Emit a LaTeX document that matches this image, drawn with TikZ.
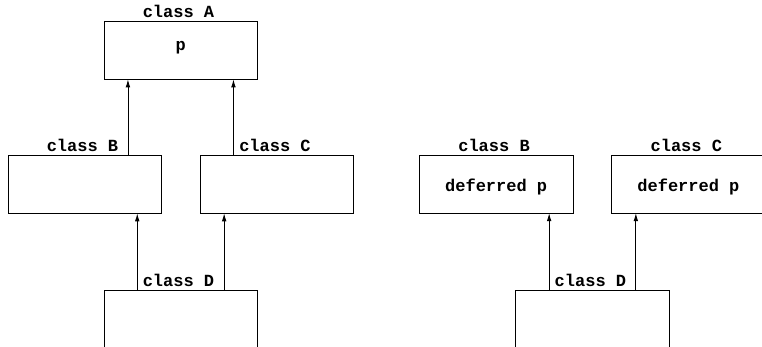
\documentclass[tikz,border=0pt]{standalone}
\usepackage{fontspec}
\setmonofont{Liberation Mono}
\usetikzlibrary{arrows.meta}
\begin{document}
\begin{tikzpicture}[x=1pt,y=-1pt,
  cls/.style={draw,line width=0.9pt,minimum width=153.5pt,minimum height=57.6pt,
    inner sep=0pt,outer sep=0pt},
  txt/.style={font=\fontsize{17}{20}\selectfont\ttfamily\bfseries,inner sep=0pt,anchor=base},
  arr/.style={line width=0.9pt,-{Latex[length=8pt,width=4.6pt]}}]
\useasboundingbox (0,0) rectangle (762,347);
\clip (0,0) rectangle (762,347);

% left: repeated inheritance of p
\node[cls] (A) at (180.7,50.5) {};
\node[cls] (B) at (84.8,184.5) {};
\node[cls] (C) at (277,184.5) {};
\node[cls] (D) at (180.7,319.1) {};
\node[txt] (lA) at (178.5,17.3) {class A};
\node[txt] (lB) at (82.5,151.6) {class B};
\node[txt] (lC) at (275,151.6) {class C};
\node[txt] (lD) at (178.5,286.2) {class D};
\node[txt] (pA) at (180.7,51) {p};

\coordinate (ba) at ([xshift=24pt]A.south west);
\coordinate (ca) at ([xshift=-24pt]A.south east);
\draw[arr] (ba |- B.north) -- (ba);
\draw[arr] (ca |- C.north) -- (ca);
\coordinate (db) at ([xshift=33.3pt]D.north west);
\coordinate (dc) at ([xshift=-33.3pt]D.north east);
\draw[arr] (db) -- (db |- B.south);
\draw[arr] (dc) -- (dc |- C.south);

% right: joining two deferred features
\node[cls] (B2) at (496.2,184.3) {};
\node[cls] (C2) at (688.4,184.3) {};
\node[cls] (D2) at (592.4,319.1) {};
\node[txt] (lB2) at (494,151.6) {class B};
\node[txt] (lC2) at (686.3,151.6) {class C};
\node[txt] (lD2) at (590.4,286.2) {class D};
\node[txt] (pB2) at (496.2,191.7) {deferred p};
\node[txt] (pC2) at (688.4,191.7) {deferred p};

\coordinate (db2) at ([xshift=33.5pt]D2.north west);
\coordinate (dc2) at ([xshift=-33.3pt]D2.north east);
\draw[arr] (db2) -- (db2 |- B2.south);
\draw[arr] (dc2) -- (dc2 |- C2.south);
\end{tikzpicture}
\end{document}
